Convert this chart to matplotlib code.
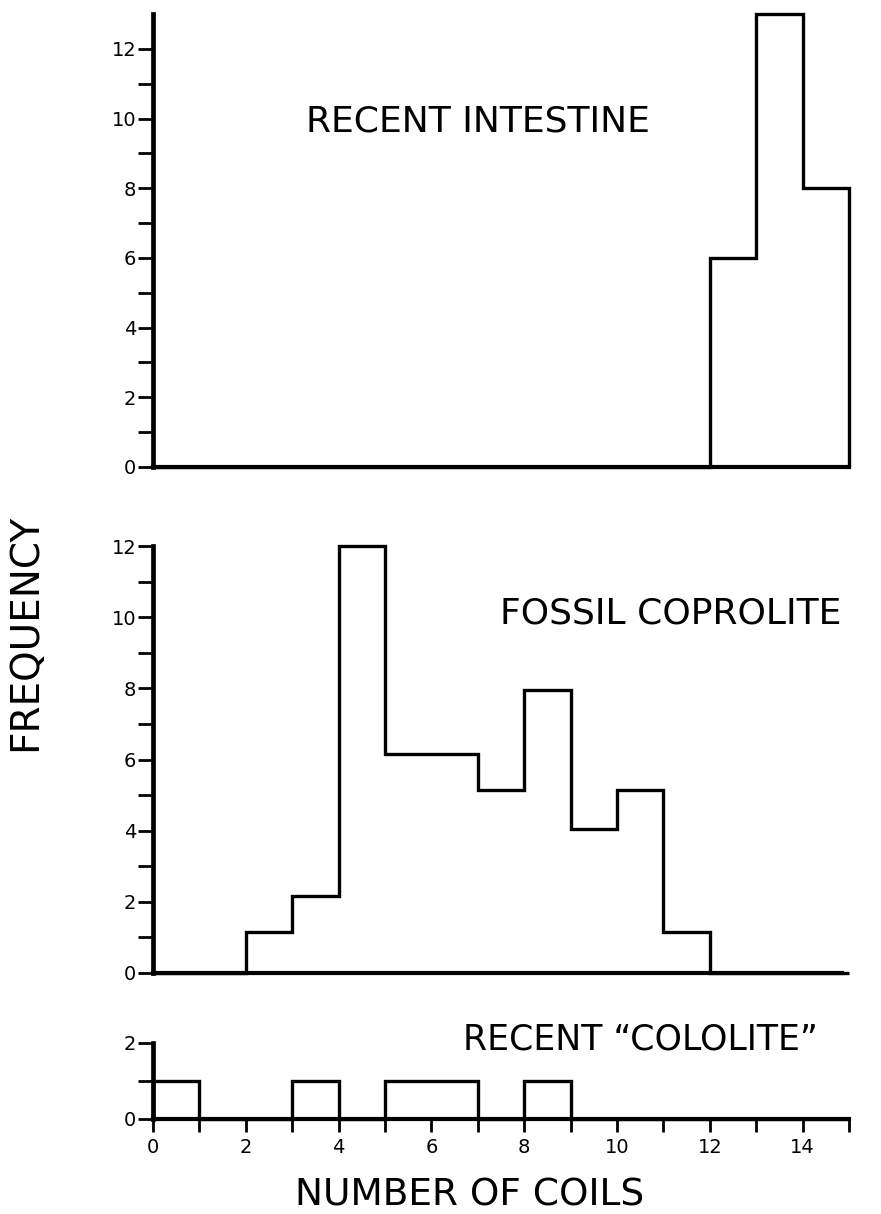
#! /usr/bin/env python3

"""
Coil counts: recent intestine vs fossil coprolite vs recent "cololite"
"""

import matplotlib
matplotlib.use("Agg")
import matplotlib.pyplot as plt
import numpy as np

# bin edges, number of coils 0..15
edges = np.arange(0, 16)

# frequency per one-coil bin
intestine = [0, 0, 0, 0, 0, 0, 0, 0, 0, 0, 0, 0, 6, 13, 8]
coprolite = [0, 0, 1.15, 2.15, 12, 6.15, 6.15, 5.15, 7.95, 4.05, 5.15, 1.15, 0, 0, 0]
cololite = [1, 0, 0, 1, 0, 1, 1, 0, 1, 0, 0, 0, 0, 0, 0]

titles = ["RECENT INTESTINE", "FOSSIL COPROLITE", "RECENT \u201cCOLOLITE\u201d"]
xtick_labels = ["0", "2", "4", "6", "8", "10", "12", "14"]

W, H = 881, 1214
fig = plt.figure(figsize=(W / 100, H / 100), dpi=100)
plt.rcParams['font.family'] = ['DejaVu Sans']


def px_axes(x0, x1, y0, y1):
    # pixel box -> figure fraction (y0 = bottom pixel row, y1 = top)
    return fig.add_axes([x0 / W, 1 - y0 / H, (x1 - x0) / W, (y0 - y1) / H])


def style(ax, ytop, yminor=True, xaxis=False):
    ax.set_xlim(0, 15)
    ax.set_ylim(0, ytop)
    for s in ("top", "right"):
        ax.spines[s].set_visible(False)
    ax.spines["left"].set_linewidth(3.4)
    ax.spines["bottom"].set_linewidth(3.0)
    ax.spines["left"].set_capstyle("projecting")
    ax.tick_params(axis="y", direction="out", length=11, width=2.0,
                   labelsize=14, pad=1)
    ax.tick_params(axis="y", which="minor", direction="out", length=11, width=2.0)
    if yminor:
        ax.set_yticks(np.arange(0, ytop + 0.1, 2))
        ax.set_yticks(np.arange(1, ytop, 2), minor=True)
    if xaxis:
        ax.set_xticks(np.arange(0, 15, 2))
        ax.set_xticklabels(xtick_labels)
        ax.set_xticks(np.arange(1, 16, 2), minor=True)
        ax.tick_params(axis="x", which="both", direction="out", length=9,
                       width=2.0, labelsize=14, pad=5)
    else:
        ax.set_xticks([])


# top: recent intestine
ax1 = px_axes(153, 849, 467, 14)
ax1.stairs(intestine, edges, color="black", linewidth=2.4, baseline=0, clip_on=False)
style(ax1, 13)

# middle: fossil coprolite
ax2 = px_axes(153, 849, 973, 546)
ax2.stairs(coprolite, edges, color="black", linewidth=2.4, baseline=0, clip_on=False)
style(ax2, 12)
ax2.spines["bottom"].set_bounds(0, 14.85)

# bottom: recent cololite
ax3 = px_axes(153, 849, 1119, 1043)
ax3.stairs(cololite, edges, color="black", linewidth=2.4, baseline=0, clip_on=False)
style(ax3, 2, yminor=False, xaxis=True)
ax3.set_yticks([0, 2])
ax3.set_yticks([1], minor=True)

fig.text(478 / W, 1 - 122 / H, titles[0], fontsize=26, ha="center", va="center")
fig.text(671 / W, 1 - 613 / H, titles[1], fontsize=26, ha="center", va="center")
fig.text(640 / W, 1 - 1040 / H, titles[2], fontsize=25, ha="center", va="center")
fig.text(470 / W, 1 - 1196 / H, "NUMBER OF COILS", fontsize=27, ha="center", va="center")
fig.text(25 / W, 1 - 632 / H, "FREQUENCY", fontsize=28, rotation=90,
         ha="center", va="center")

fig.savefig("out.png", dpi=100)
